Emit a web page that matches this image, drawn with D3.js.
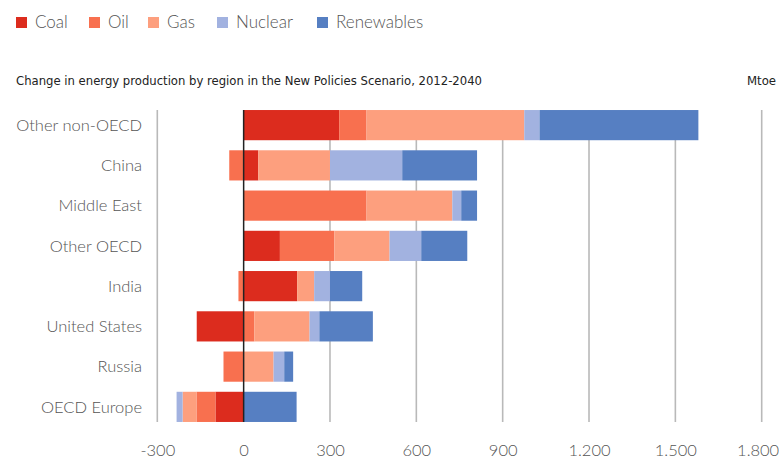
<!DOCTYPE html>
<html>
<head>
<meta charset="utf-8">
<script src="https://cdn.jsdelivr.net/npm/d3@7"></script>
<style>
  body { margin: 0; background: #fff; }
  .lbl { font-family: Lato, "Open Sans", sans-serif; font-weight: 300; fill: #555; }
  .sub { font-family: "Liberation Sans Narrow", "DejaVu Sans Condensed", sans-serif; fill: #222; }
</style>
</head>
<body>
<div class="chart"></div>
<script>
// data (Mtoe, change 2012-2040)
var regions = ["Other non-OECD", "China", "Middle East", "Other OECD", "India", "United States", "Russia", "OECD Europe"];
var fuels = ["Coal", "Oil", "Gas", "Nuclear", "Renewables"];
var coal = [332, 51, 0, 126, 186, -163, 0, -98];
var oil = [95, -50, 427, 189, -18, 37, -70, -66];
var gas = [548, 249, 298, 192, 59, 192, 104, -48];
var nuclear = [53, 251, 31, 110, 55, 34, 37, -21];
var renewables = [552, 260, 55, 160, 112, 186, 31, 184];
var xTicks = [-300, 0, 300, 600, 900, 1200, 1500, 1800];
var colors = ["#dc2c1e", "#f8704f", "#fd9f7e", "#a2b2e0", "#567fc2"];

var svgWidth = 779, svgHeight = 462;

var svg = d3.select(".chart").append("svg")
  .attr("width", svgWidth)
  .attr("height", svgHeight);

// build rows for the stack
var series = [coal, oil, gas, nuclear, renewables];
var rows = regions.map(function (r, i) {
  var o = { region: r };
  fuels.forEach(function (f, j) { o[f] = series[j][i]; });
  return o;
});

var stacked = d3.stack()
  .keys(fuels)
  .offset(d3.stackOffsetDiverging)(rows);

var x = d3.scaleLinear().domain([-300, 1800]).range([157.3, 761.7]);
var y = d3.scaleBand().domain(regions).range([105, 427]).paddingInner(0.25).paddingOuter(0.125);

var plotTop = y(regions[0]);
var plotBottom = y(regions[regions.length - 1]) + y.bandwidth();

// grid lines
svg.append("g").selectAll("line")
  .data(xTicks.filter(function (d) { return d !== 0; }))
  .enter().append("line")
  .attr("x1", d => x(d)).attr("x2", d => x(d))
  .attr("y1", plotTop).attr("y2", plotBottom)
  .attr("stroke", "#b9b9b9")
  .attr("stroke-width", 1.6);

// bars
svg.append("g").selectAll("g")
  .data(stacked)
  .enter().append("g")
  .attr("fill", (d, i) => colors[i])
  .selectAll("rect")
  .data(d => d)
  .enter().append("rect")
  .attr("x", d => x(Math.min(d[0], d[1])))
  .attr("width", d => Math.abs(x(d[1]) - x(d[0])))
  .attr("y", d => y(d.data.region))
  .attr("height", y.bandwidth());

// zero line
svg.append("line")
  .attr("x1", x(0)).attr("x2", x(0))
  .attr("y1", plotTop).attr("y2", plotBottom)
  .attr("stroke", "#222")
  .attr("stroke-width", 1.5);

// region labels
svg.append("g").selectAll("text")
  .data(regions)
  .enter().append("text")
  .attr("class", "lbl")
  .attr("x", 142)
  .attr("y", d => y(d) + y.bandwidth() / 2)
  .attr("dy", "0.35em")
  .attr("text-anchor", "end")
  .attr("font-size", 16.5)
  .text(d => d);

// x axis labels (dot as thousands separator, plain hyphen for minus)
var fmt = d3.formatLocale({ decimal: ",", thousands: ".", grouping: [3], currency: ["", ""], minus: "-" }).format(",");
var xAxis = d3.axisBottom(x).tickValues(xTicks).tickSize(0).tickPadding(0).tickFormat(fmt);
var axisG = svg.append("g")
  .attr("transform", "translate(0, 444)")
  .call(xAxis);
axisG.select(".domain").remove();
axisG.selectAll("text")
  .attr("class", "lbl")
  .attr("font-size", 16.5)
  .attr("dy", "0.75em");
// keep the last label inside the window
axisG.selectAll(".tick").filter(d => d === 1800).select("text")
  .attr("text-anchor", "end")
  .attr("dx", 17);

// legend
var legend = svg.append("g").selectAll("g")
  .data(fuels)
  .enter().append("g")
  .attr("transform", (d, i) => "translate(" + [16, 89, 148, 217, 317][i] + ",17)");
legend.append("rect")
  .attr("width", 11).attr("height", 11)
  .attr("fill", (d, i) => colors[i]);
legend.append("text")
  .attr("class", "lbl")
  .attr("x", 19)
  .attr("y", 5.5)
  .attr("dy", "0.35em")
  .attr("font-size", 17)
  .text(d => d);

// subtitle and unit
svg.append("text")
  .attr("class", "sub")
  .attr("x", 16).attr("y", 85)
  .attr("font-size", 13)
  .attr("textLength", 466)
  .attr("lengthAdjust", "spacingAndGlyphs")
  .text("Change in energy production by region in the New Policies Scenario, 2012-2040");
svg.append("text")
  .attr("class", "sub")
  .attr("x", 776).attr("y", 85)
  .attr("text-anchor", "end")
  .attr("font-size", 13)
  .text("Mtoe");
</script>
</body>
</html>
